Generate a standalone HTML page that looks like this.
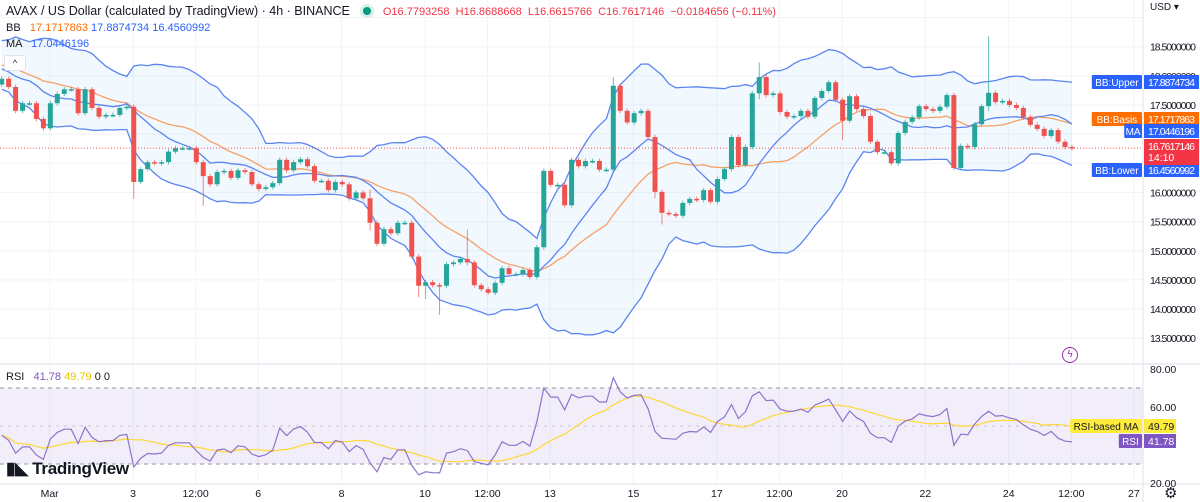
<!DOCTYPE html>
<html><head><meta charset="utf-8">
<style>
html,body{margin:0;padding:0;background:#fff;}
body{width:1200px;height:502px;overflow:hidden;position:relative;font-family:"Liberation Sans",sans-serif;}
svg{position:absolute;left:0;top:0;}
.t{font-family:"Liberation Sans",sans-serif;}
</style></head>
<body>
<svg id="chart" width="1200" height="502"></svg>
<script>
// ---- data ----
const priorCloses=[18.3,18.5,18.6,18.4,18.7,18.5,18.2,18.4,18.6,18.5,18.3,18.1,18.4,18.6,18.5,18.2,18.3,18.0,18.2,18.4,18.3,18.1,17.9,18.2,18.4,18.3,18.1,18.0,17.85,17.9];
const firstOpen=17.85;
const closes=[17.95,17.81,17.40,17.53,17.53,17.26,17.10,17.53,17.69,17.77,17.77,17.36,17.77,17.45,17.30,17.33,17.33,17.45,17.47,16.18,
16.40,16.52,16.50,16.52,16.70,16.76,16.76,16.76,16.52,16.28,16.14,16.35,16.37,16.25,16.38,16.35,16.14,16.06,16.09,16.16,
16.56,16.38,16.52,16.57,16.45,16.20,16.20,16.04,16.18,16.14,15.90,16.00,15.90,15.48,15.12,15.37,15.30,15.48,15.48,14.90,
14.40,14.46,14.41,14.40,14.77,14.80,14.86,14.80,14.41,14.34,14.28,14.45,14.70,14.60,14.60,14.67,14.55,15.06,16.37,16.13,
16.13,15.78,16.56,16.45,16.54,16.54,16.39,16.39,17.83,17.40,17.20,17.36,17.40,16.95,16.01,15.65,15.63,15.60,15.82,15.89,
15.87,16.04,15.84,16.23,16.40,16.95,16.47,16.78,17.70,17.98,17.67,17.70,17.38,17.30,17.31,17.40,17.30,17.62,17.74,17.89,
17.59,17.23,17.65,17.43,17.31,16.87,16.69,16.69,16.50,17.02,17.21,17.29,17.48,17.43,17.40,17.47,17.67,16.42,16.80,16.78,
17.17,17.48,17.71,17.55,17.57,17.50,17.45,17.29,17.16,17.09,16.97,17.07,16.87,16.78,16.76];
const wickIdx=[19,29,60,61,63,67,88,109,142,121,53,94,95];
const wickHigh=[17.5,16.55,14.9,14.5,14.45,15.36,17.98,18.23,18.68,17.6,16.05,16.98,16.05];
const wickLow=[15.89,15.77,14.20,14.17,13.90,14.75,16.35,17.6,17.4,16.9,15.35,15.9,15.45];
const priceTicks=[13.5,14.0,14.5,15.0,15.5,16.0,16.5,17.0,17.5,18.0,18.5];
const rsiTicks=[20,60,80];
const timeLabels=["Mar","3","12:00","6","8","10","12:00","13","15","17","12:00","20","22","24","12:00","27"];
const timeIdx=[6.9,18.9,27.9,36.9,48.9,60.9,69.9,78.9,90.9,102.9,111.9,120.9,132.9,144.9,153.9,162.9];

// ---- scales ----
const yP=p=>105+(17.5-p)*58.3;
const xI=i=>1.7+i*6.95;
const yR=v=>388+(70-v)*1.9;
const NS="http://www.w3.org/2000/svg";
const svg=document.getElementById('chart');
function mk(tag,attrs,parent){const e=document.createElementNS(NS,tag);for(const k in attrs)e.setAttribute(k,attrs[k]);(parent||svg).appendChild(e);return e;}
function txt(s,attrs,parent){const e=mk('text',attrs,parent);e.textContent=s;return e;}

// grid
const grid=mk('g',{});


priceTicks.concat([19.0]).forEach(p=>{mk('line',{x1:0,x2:1143,y1:yP(p),y2:yP(p),stroke:'#f0f3fa','stroke-width':1},grid);});
timeIdx.forEach(i=>{mk('line',{x1:xI(i),x2:xI(i),y1:0,y2:484,stroke:'#f0f3fa','stroke-width':1},grid);});

// indicators
const all=priorCloses.concat(closes);
const P=priorCloses.length;
function sma(arr,end,n){let s=0;for(let k=end-n+1;k<=end;k++)s+=arr[k];return s/n;}
const up=[],lo=[],mid=[],ma=[];
for(let i=0;i<closes.length;i++){
  const e=i+P;const m=sma(all,e,20);let v=0;for(let k=e-19;k<=e;k++)v+=(all[k]-m)**2;const sd=Math.sqrt(v/20);
  mid.push(m);up.push(m+2*sd);lo.push(m-2*sd);ma.push(sma(all,e,12));
}
const pts=a=>a.map((v,i)=>xI(i).toFixed(1)+','+yP(v).toFixed(1));
const fill=mk('polygon',{points:pts(up).concat(pts(lo).reverse()).join(' '),fill:'rgba(33,150,243,0.06)'});


[[up,'#5b84f2','bb-upper-line'],[lo,'#5b84f2','bb-lower-line'],[mid,'#f7a068','bb-basis-line'],[ma,'#5b84f2','ma-line']].forEach(a=>{
  const l=mk('polyline',{points:pts(a[0]).join(' '),fill:'none',stroke:a[1],'stroke-width':1.3});
  
  
});

// candles
const cg=mk('g',{});


closes.forEach((c,i)=>{
  const o=i===0?firstOpen:closes[i-1];
  const bull=c>=o;const col=bull?'#26a69a':'#ef5350';
  let h=Math.max(o,c)+0.04,l=Math.min(o,c)-0.04;
  const w=wickIdx.indexOf(i);if(w>=0){h=Math.max(h,wickHigh[w]);l=Math.min(l,wickLow[w]);}
  const x=xI(i);
  const wk=mk('line',{x1:x,x2:x,y1:yP(h),y2:yP(l),stroke:col,'stroke-width':1,opacity:0.7},cg);
  
  
  const yt=yP(Math.max(o,c)),yb=yP(Math.min(o,c));
  const b=mk('rect',{x:x-2.5,y:yt,width:5,height:Math.max(1.5,yb-yt),fill:col},cg);
  
  
});
// current price line
const pl=mk('line',{x1:0,x2:1143,y1:yP(16.76),y2:yP(16.76),stroke:'#ef5350','stroke-width':1,'stroke-dasharray':'1,2'});



// RSI
const rsi=[];{let ag=0,al=0;for(let k=1;k<=14;k++){const d=all[k]-all[k-1];if(d>0)ag+=d;else al-=d;}ag/=14;al/=14;
 for(let k=15;k<all.length;k++){const d=all[k]-all[k-1];ag=(ag*13+Math.max(d,0))/14;al=(al*13+Math.max(-d,0))/14;if(k>=P)rsi.push(100-100/(1+ag/(al||1e-9)));}}
const rsiMa=rsi.map((v,i)=>{const s=rsi.slice(Math.max(0,i-13),i+1);return s.reduce((a,b)=>a+b,0)/s.length;});
const band=mk('rect',{x:0,y:yR(70),width:1143,height:yR(30)-yR(70),fill:'rgba(126,87,194,0.1)'});


[70,50,30].forEach(v=>{mk('line',{x1:0,x2:1143,y1:yR(v),y2:yR(v),stroke:v===50?'#c9c3d8':'#9598a1','stroke-width':1,'stroke-dasharray':v===50?'3,5':'4,4'});});
const rm=mk('polyline',{points:rsiMa.map((v,i)=>xI(i).toFixed(1)+','+yR(v).toFixed(1)).join(' '),fill:'none',stroke:'#fdd835','stroke-width':1.2});


const rl=mk('polyline',{points:rsi.map((v,i)=>xI(i).toFixed(1)+','+yR(v).toFixed(1)).join(' '),fill:'none',stroke:'#8e72cc','stroke-width':1.2});



// dividers
mk('rect',{x:0,y:363,width:1200,height:2,fill:'#eceef3'});
mk('line',{x1:0,x2:1200,y1:484,y2:484,stroke:'#e0e3eb'});
mk('line',{x1:1143,x2:1143,y1:0,y2:502,stroke:'#e0e3eb'});

// axes labels
priceTicks.forEach(p=>{const t=txt(p.toFixed(7),{x:1150,y:yP(p)+4,'font-size':10.5,fill:'#131722',class:'t','textLength':46});
 
 });
rsiTicks.forEach(v=>{const t=txt(v.toFixed(2),{x:1150,y:yR(v)+4,'font-size':10.5,fill:'#131722',class:'t'});
 
 });
timeLabels.forEach((s,k)=>{const t=txt(s,{x:xI(timeIdx[k]),y:497,'font-size':10.5,fill:'#131722','text-anchor':'middle',class:'t'});
 
 });

// tags
function tag(label,val,y,col,name,tcol){
  const g=mk('g',{});
  
  
  if(label){const w=label.length*5.4+7;mk('rect',{x:1142-w,y:y-7,width:w,height:14,fill:col,rx:1},g);
   txt(label,{x:1142-w/2,y:y+4,'font-size':10,fill:tcol||'#fff','text-anchor':'middle',class:'t'},g);}
  const vw=val.length>6?55:32;
  mk('rect',{x:1144,y:y-7,width:vw,height:14,fill:col},g);
  const a={x:1148,y:y+4,'font-size':10.5,fill:tcol||'#fff',class:'t'};
  if(val.length>6)a.textLength=47;
  txt(val,a,g);
}
tag('BB:Upper','17.8874734',82,'#2962ff','bb-upper-tag');
tag('BB:Basis','17.1717863',119,'#ff6d00','bb-basis-tag');
tag('MA','17.0446196',131,'#2962ff','ma-tag');
tag('BB:Lower','16.4560992',170,'#2962ff','bb-lower-tag');
tag('RSI-based MA','49.79',426,'#ffeb3b','rsi-ma-tag','#131722');
tag('RSI','41.78',441,'#7e57c2','rsi-tag');
const pg=mk('g',{});


mk('rect',{x:1144,y:139,width:55,height:26,fill:'#f23645'},pg);
txt('16.7617146',{x:1148,y:150,'font-size':10.5,fill:'#fff',class:'t',textLength:47},pg);
txt('14:10',{x:1148,y:161,'font-size':10.5,fill:'#fff',class:'t'},pg);
</script>
<div style="position:absolute;left:6px;top:4px;font-size:12.5px;color:#131722;white-space:nowrap;">
<span>AVAX / US Dollar (calculated by TradingView) · 4h · BINANCE</span>
<span style="display:inline-block;width:8px;height:8px;border-radius:50%;background:#089981;margin:0 8px 0 10px;box-shadow:0 0 0 3px #d6efe9;"></span>
<span style="font-size:11px;color:#f23645;">O<span>16.7793258</span> &nbsp;H16.8688668 &nbsp;L16.6615766 &nbsp;C16.7617146 &nbsp;−0.0184656 (−0.11%)</span>
</div>
<div style="position:absolute;left:6px;top:22px;font-size:11px;color:#131722;white-space:nowrap;">BB &nbsp;&nbsp;<span style="color:#ff6d00">17.1717863</span> <span style="color:#2962ff">17.8874734 16.4560992</span></div>
<div style="position:absolute;left:6px;top:38px;font-size:11px;color:#131722;white-space:nowrap;">MA &nbsp;&nbsp;<span style="color:#2962ff">17.0446196</span></div>
<div style="position:absolute;left:4px;top:55px;width:20px;height:14px;border:1px solid #e0e3eb;border-radius:3px;background:#fff;font-size:9px;text-align:center;line-height:14px;color:#131722;">^</div>
<div style="position:absolute;left:6px;top:371px;font-size:11px;color:#131722;white-space:nowrap;">RSI &nbsp;&nbsp;<span style="color:#7e57c2">41.78</span> <span style="color:#e5c600">49.79</span> 0 0</div>
<div style="position:absolute;left:1150px;top:2px;font-size:10px;color:#131722;">USD ▾</div>
<div style="position:absolute;left:6px;top:459px;font-size:17px;font-weight:bold;color:#131722;letter-spacing:-0.3px;">▮◣ TradingView</div>
<div style="position:absolute;left:1062px;top:347px;width:14px;height:14px;border:1.5px solid #9c27b0;border-radius:50%;color:#9c27b0;font-size:10px;text-align:center;line-height:14px;">ϟ</div>
<div style="position:absolute;left:1164px;top:484px;font-size:15px;color:#131722;">⚙</div>
</body></html>
